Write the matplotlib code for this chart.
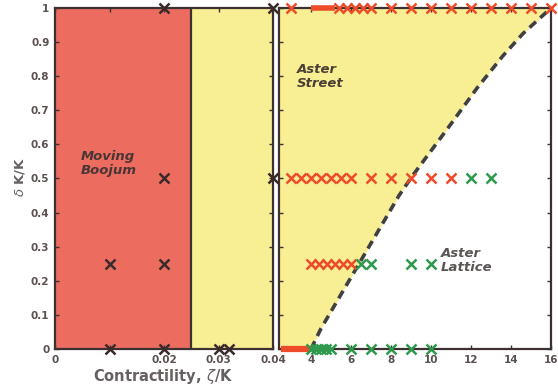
import numpy as np
import matplotlib
matplotlib.use("Agg")
import matplotlib.pyplot as plt

# ------------------------------------------------------------
# Data
# ------------------------------------------------------------
# left panel (small contractility), black crosses
boojum_x = [0.02, 0.04, 0.02, 0.04, 0.01, 0.02, 0.01, 0.02, 0.03, 0.032]
boojum_y = [1.0, 1.0, 0.5, 0.5, 0.25, 0.25, 0.0, 0.0, 0.0, 0.0]
boojum_edge = 0.025          # boundary between moving boojum and aster street

# right panel, red crosses (aster street)
street_x = [3, 5.4, 5.8, 6.2, 6.6, 7, 8, 9, 10, 11, 12, 13, 14, 15, 16,
            3, 3.5, 4, 4.5, 5, 5.5, 6, 7, 8, 9, 10, 11,
            4, 4.4, 4.8, 5.2, 5.6, 6]
street_y = [1.0] * 15 + [0.5] * 12 + [0.25] * 6

# right panel, green crosses (aster lattice)
lattice_x = [12, 13,
             6.5, 7, 9, 10,
             4, 4.25, 4.5, 4.75, 5, 6, 7, 8, 9, 10]
lattice_y = [0.5] * 2 + [0.25] * 4 + [0.0] * 10

# densely sampled runs (appear as thick bars)
dense_red_top_x = [4.0, 4.2, 4.4, 4.6, 4.8, 5.0, 5.2]
dense_red_bot_x = [2.5, 2.75, 3.0, 3.25, 3.5, 3.75, 4.0]
dense_green_bot_x = [4.0, 4.25, 4.5, 4.75, 5.0]

# dashed phase boundary (x, delta)
bound_x = [4.0, 4.5, 5.3, 6.2, 7.0, 7.8, 8.4, 9.1, 11.0, 12.3, 13.6, 14.6, 16.0]
bound_y = [0.0, 0.06, 0.14, 0.23, 0.31, 0.39, 0.45, 0.51, 0.66, 0.765, 0.86, 0.925, 1.0]

# ------------------------------------------------------------
# Style
# ------------------------------------------------------------
RED_BG = '#EC6D60'
YEL_BG = '#F8EE94'
FRAME = '#3d3030'
TXT = '#5a5050'
RED_MK = '#EE4B2B'
GRN_MK = '#2F9A4E'
BLK_MK = '#3a2a2a'

fig = plt.figure(figsize=(5.58, 3.92), dpi=100)
ax1 = fig.add_axes([55/558, 1-349/392, (273-55)/558, 341/392])
ax2 = fig.add_axes([279/558, 1-349/392, (551-279)/558, 341/392])

mk = dict(marker='x', markersize=7.3, markeredgewidth=1.8, linestyle='none',
          clip_on=False, zorder=5)

# ------------------------------------------------------------
# Left panel
# ------------------------------------------------------------
ax1.axvspan(0, boojum_edge, color=RED_BG, lw=0)
ax1.axvspan(boojum_edge, 0.04, color=YEL_BG, lw=0)
ax1.axvline(boojum_edge, color=FRAME, lw=1.6)
ax1.plot(boojum_x, boojum_y, color=BLK_MK, **mk)
ax1.set_xlim(0, 0.04)
ax1.set_ylim(0, 1)
ax1.set_xticks([0, 0.01, 0.02, 0.03, 0.04])
ax1.set_xticklabels(['0', '', '0.02', '0.03', '0.04'])
ax1.set_yticks(np.arange(0, 1.01, 0.1))
ax1.set_yticklabels(['0', '0.1', '0.2', '0.3', '0.4', '0.5', '0.6', '0.7',
                     '0.8', '0.9', '1'])
ax1.text(0.0048, 0.545, 'Moving\nBoojum', fontsize=9.5, fontweight='bold',
         style='italic', color='#4a3535', va='center', ha='left',
         linespacing=1.1)

# ------------------------------------------------------------
# Right panel
# ------------------------------------------------------------
ax2.fill_betweenx(bound_y, 2.4, bound_x, color=YEL_BG, lw=0)
ax2.plot(bound_x, bound_y, color='#404040', lw=2.6, ls=(0, (2.4, 1.6)), zorder=3)
ax2.plot(dense_red_top_x, [1.0] * len(dense_red_top_x), color=RED_MK, lw=4,
         clip_on=False, zorder=5, solid_capstyle='butt')
ax2.plot(dense_red_bot_x, [0.0] * len(dense_red_bot_x), color=RED_MK, lw=4.5,
         clip_on=False, zorder=5, solid_capstyle='butt')
ax2.plot(dense_green_bot_x, [0.0] * len(dense_green_bot_x), color=GRN_MK, lw=4,
         clip_on=False, zorder=5, solid_capstyle='butt')
ax2.plot(street_x, street_y, color=RED_MK, **mk)
ax2.plot(lattice_x, lattice_y, color=GRN_MK, **mk)
ax2.set_xlim(2.4, 16)
ax2.set_ylim(0, 1)
ax2.set_xticks(np.arange(4, 17, 2))
ax2.set_yticks(np.arange(0, 1.01, 0.1))
ax2.set_yticklabels([])
ax2.text(3.3, 0.80, 'Aster\nStreet', fontsize=9.5, fontweight='bold',
         style='italic', color='#4a3f35', va='center', ha='left',
         linespacing=1.1)
ax2.text(10.5, 0.26, 'Aster\nLattice', fontsize=9.5, fontweight='bold',
         style='italic', color='#5a5555', va='center', ha='left',
         linespacing=1.1)

for ax in (ax1, ax2):
    for sp in ax.spines.values():
        sp.set_color(FRAME)
        sp.set_linewidth(1.6)
    ax.tick_params(direction='in', length=3, width=1, color=FRAME,
                   top=True, right=True, labelsize=7.5, labelcolor=TXT, pad=4)
    for lab in ax.get_xticklabels() + ax.get_yticklabels():
        lab.set_fontweight('bold')

fig.text(163/558, 1-376/392, r'Contractility, $\zeta$/K', fontsize=10.5,
         color='#666060', ha='center', va='center', fontweight='bold')
fig.text(20/558, 1-177/392, r'$\delta$ K/K', fontsize=9.5, color='#666060',
         ha='center', va='center', rotation=90, fontweight='bold')

fig.savefig('out.png', dpi=100)
